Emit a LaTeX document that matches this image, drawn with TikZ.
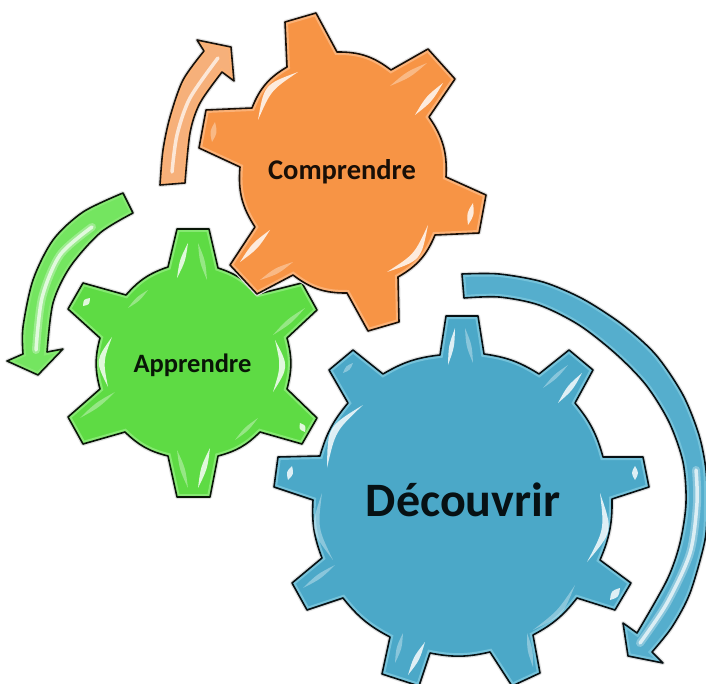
\documentclass[tikz,border=0pt]{standalone}
\usepackage{fontspec}
\usetikzlibrary{calc}
\setmainfont{Carlito}
\definecolor{orangeM}{HTML}{F79445}
\definecolor{orangeL}{HTML}{FBB176}
\definecolor{orangeA}{HTML}{F6B07A}
\definecolor{greenM}{HTML}{5EDB44}
\definecolor{greenL}{HTML}{86E972}
\definecolor{greenA}{HTML}{74E560}
\definecolor{blueM}{HTML}{4BA8C8}
\definecolor{blueL}{HTML}{74C2DA}
\definecolor{blueA}{HTML}{55AECD}
\tikzset{
  gearlabel/.style={inner sep=0pt,anchor=center},
  bright/.style={fill=white,fill opacity=.82},
  faint/.style={fill=white,fill opacity=.35},
  streakwide/.style={line width=8pt,line cap=round,draw=white,draw opacity=.3},
  streak/.style={line width=3.5pt,line cap=round,draw=white,draw opacity=.7},
}
% #1 path, #2 main colour, #3 rim colour
\newcommand\glossyshape[3]{%
  \path[draw=black!12,line width=4pt,line join=round] #1;
  \fill[#2] #1;
  \begin{scope}\clip #1; \draw[#3,line width=6pt] #1; \end{scope}
  \draw[black!90!#2,line width=1.6pt,line join=round] #1;
}
% highlight: style, start, end, control offsets (positive = left of travel on screen)
\newcommand\shine[5]{\path[#1] #2 .. controls ($#2!.5!#3!#4pt!90:#3$) .. #3 .. controls ($#2!.5!#3!#5pt!90:#3$) .. #2 -- cycle;}
\def\orangegear{(287,67) -- (285,22) -- (316,13) -- (337,52) to[bend left=19] (391,70) -- (428,49) -- (455,79) -- (429,117) to[bend left=19] (446,177) -- (486,195) -- (479,233) -- (435,235) to[bend left=19] (398,277) -- (399,322) -- (368,331) -- (347,293) to[bend left=19] (293,275) -- (257,294) -- (230,265) -- (255,227) to[bend left=19] (240,167) -- (199,148) -- (206,110) -- (252,108) to[bend left=19] (287,67) -- cycle}
\def\greengear{(168,267) -- (177,229) -- (209,229) -- (218,268) to[bend left=15] (258,294) -- (302,283) -- (317,310) -- (287,338) to[bend left=15] (287,389) -- (317,418) -- (302,444) -- (260,432) to[bend left=15] (218,456) -- (210,497) -- (177,497) -- (168,456) to[bend left=15] (125,432) -- (83,444) -- (68,417) -- (100,389) to[bend left=15] (100,338) -- (68,309) -- (83,283) -- (126,295) to[bend left=15] (168,267) -- cycle}
\def\bluegear{(440,355) -- (446,316) -- (478,316) -- (484,354) to[bend left=12] (539,374) -- (569,350) -- (593,370) -- (575,403) to[bend left=12] (603,457) -- (643,457) -- (649,487) -- (612,499) to[bend left=12] (600,560) -- (631,583) -- (615,610) -- (577,598) to[bend left=12] (533,635) -- (540,673) -- (512,686) -- (490,652) to[bend left=12] (430,653) -- (419,686) -- (382,674) -- (390,637) to[bend left=12] (343,598) -- (307,610) -- (292,583) -- (322,558) to[bend left=12] (313,500) -- (274,487) -- (278,457) -- (320,456) to[bend left=12] (348,403) -- (329,370) -- (353,350) -- (383,374) to[bend left=12] (440,355) -- cycle}
\def\orangearrow{plot[smooth] coordinates {(160,185) (163,150) (170,117) (183,80) (204,51)} -- (197,40) -- (231,47) -- (234,81) -- (222,72) -- plot[smooth] coordinates {(222,72) (200,103) (190,133) (185,183)} -- cycle}
\def\greenarrow{plot[smooth] coordinates {(123,193) (83,212) (53,240) (33,280) (23,327) (23,354)} -- (7,361) -- (38,375) -- (63,349) -- (47,352) -- plot[smooth] coordinates {(47,352) (53,303) (70,267) (100,233) (133,213)} -- cycle}
\def\bluearrow{plot[smooth] coordinates {(462,274) (499,274) (543,282) (583,299) (623,325) (656,355) (683,395) (699,435) (706,470) (707,503) (705,540) (690,593) (672,627) (652,652)} -- (663,663) -- (628,656) -- (623,623) -- (637,633) -- plot[smooth] coordinates {(637,633) (667,580) (680,543) (686,503) (683,462) (669,422) (646,385) (616,354) (579,325) (539,305) (499,297) (464,298)} -- cycle}
\begin{document}
\begin{tikzpicture}[x=1pt,y=-1pt]
\useasboundingbox (0,0) rectangle (706,684);
\clip (0,0) rectangle (706,684);
\fill[white] (0,0) rectangle (706,684);

% blue gear
\glossyshape{\bluegear}{blueM}{blueL}
\shine{bright}{(455,328)}{(448,365)}{3}{-3}
\shine{faint}{(465,328)}{(473,363)}{3}{-3}
\shine{bright}{(582,373)}{(558,403)}{3.5}{-3.5}
\shine{faint}{(568,365)}{(543,388)}{2.5}{-2.5}
\shine{bright}{(635,466)}{(635,480)}{4}{-4}
\shine{bright}{(600,493)}{(587,562)}{20}{11}
\shine{bright}{(620,588)}{(610,600)}{5}{-5}
\shine{faint}{(575,585)}{(533,630)}{12}{5}
\shine{faint}{(527,633)}{(533,667)}{3}{-3}
\shine{bright}{(425,642)}{(408,675)}{3.5}{-3.5}
\shine{faint}{(403,633)}{(395,663)}{3}{-3}
\shine{faint}{(335,565)}{(303,588)}{3}{-3}
\shine{faint}{(322,493)}{(333,560)}{-18}{-10}
\shine{bright}{(363,405)}{(327,468)}{-20}{-11}
\shine{bright}{(292,466)}{(288,480)}{4}{-4}
\shine{faint}{(353,363)}{(343,373)}{3}{-3}

% green gear
\glossyshape{\greengear}{greenM}{greenL}
\shine{bright}{(188,243)}{(177,278)}{3}{-3}
\shine{faint}{(198,243)}{(207,280)}{3}{-3}
\shine{faint}{(305,308)}{(273,335)}{3}{-3}
\shine{bright}{(275,340)}{(273,392)}{15}{7}
\shine{bright}{(112,337)}{(108,387)}{-15}{-7}
\shine{faint}{(115,392)}{(80,418)}{3}{-3}
\shine{bright}{(90,298)}{(83,306)}{4}{-4}
\shine{faint}{(148,290)}{(128,308)}{2.5}{-2.5}
\shine{faint}{(258,418)}{(235,440)}{2.5}{-2.5}
\shine{bright}{(300,423)}{(305,432)}{4}{-4}
\shine{bright}{(210,448)}{(198,488)}{3.5}{-3.5}
\shine{faint}{(177,450)}{(188,488)}{3}{-3}

% orange gear
\glossyshape{\orangegear}{orangeM}{orangeL}
\shine{bright}{(298,72)}{(258,120)}{-18}{-9}
\shine{faint}{(427,63)}{(390,86)}{3.5}{-3.5}
\shine{bright}{(443,83)}{(415,115)}{4}{-4}
\shine{bright}{(473,203)}{(468,225)}{4}{-4}
\shine{bright}{(428,225)}{(387,272)}{18}{9}
\shine{bright}{(270,230)}{(240,262)}{4}{-4}
\shine{faint}{(293,262)}{(260,280)}{3.5}{-3.5}
\shine{faint}{(215,122)}{(212,142)}{4}{-4}

% arrows
\glossyshape{\orangearrow}{orangeA}{orangeL}
\draw[streak] plot[smooth] coordinates {(172,172) (177,135) (190,98) (218,58)};
\glossyshape{\greenarrow}{greenA}{greenL}
\draw[streakwide] plot[smooth] coordinates {(36,350) (42,298) (60,255) (92,227)};
\draw[streak] plot[smooth] coordinates {(36,350) (42,298) (60,255) (92,227)};
\glossyshape{\bluearrow}{blueA}{blueL}
\draw[streakwide] plot[smooth] coordinates {(696,470) (697,503) (690,553) (667,603) (640,643)};
\draw[streak] plot[smooth] coordinates {(696,470) (697,503) (690,553) (667,603) (640,643)};

% labels
\node[gearlabel,font=\bfseries\fontsize{28.5}{32}\selectfont,text=black!90!orangeM] (comprendre) at (342,172) {Comprendre};
\node[gearlabel,font=\bfseries\fontsize{26.5}{30}\selectfont,text=black!90!greenM] (apprendre) at (192.5,365) {Apprendre};
\node[gearlabel,font=\bfseries\fontsize{48}{54}\selectfont,text=black!90!blueM] (decouvrir) at (463,500) {Découvrir};
\end{tikzpicture}
\end{document}
